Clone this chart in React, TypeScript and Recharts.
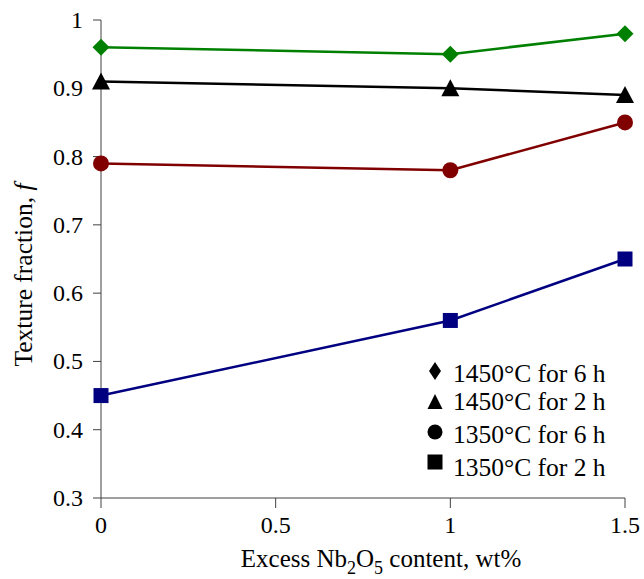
import { LineChart, Line, XAxis, YAxis } from 'recharts';

const xValues = [0, 1, 1.5];
const t1450h6 = [0.96, 0.95, 0.98];
const t1450h2 = [0.91, 0.9, 0.89];
const t1350h6 = [0.79, 0.78, 0.85];
const t1350h2 = [0.45, 0.56, 0.65];
const xTicks = [0, 0.5, 1, 1.5];
const yTicks = [0.3, 0.4, 0.5, 0.6, 0.7, 0.8, 0.9, 1];
const seriesNames = ['1450°C for 6 h', '1450°C for 2 h', '1350°C for 6 h', '1350°C for 2 h'];

const data = xValues.map((x, i) => ({
  x,
  a: t1450h6[i],
  b: t1450h2[i],
  c: t1350h6[i],
  d: t1350h2[i],
}));

const FONT = '"Liberation Serif", "Times New Roman", serif';
const AXIS = '#404040';

type Shape = 'diamond' | 'triangle' | 'circle' | 'square';

// legend markers are a bit smaller / narrower than the plotted ones
function marker(shape: Shape, cx: number, cy: number, color: string, key?: string, legend = false) {
  if (shape === 'diamond') {
    const rx = legend ? 6 : 8.5;
    const ry = legend ? 9 : 8.5;
    return <polygon key={key} points={`${cx},${cy - ry} ${cx + rx},${cy} ${cx},${cy + ry} ${cx - rx},${cy}`} fill={color} />;
  }
  if (shape === 'triangle') {
    const w = legend ? 7.5 : 9;
    const h = legend ? 7 : 8;
    return <polygon key={key} points={`${cx},${cy - h - 1} ${cx + w},${cy + h} ${cx - w},${cy + h}`} fill={color} />;
  }
  if (shape === 'circle') {
    return <circle key={key} cx={cx} cy={cy} r={legend ? 7.5 : 8} fill={color} />;
  }
  const s = 15;
  return <rect key={key} x={cx - s / 2} y={cy - s / 2} width={s} height={s} fill={color} />;
}

const dot = (shape: Shape, color: string) => (p: any) => marker(shape, p.cx, p.cy, color, `${shape}-${p.index}`);

function LegendBox() {
  const shapes: Shape[] = ['diamond', 'triangle', 'circle', 'square'];
  const baselines = [382, 410, 443, 476];
  const markerY = [371, 402, 432, 462];
  return (
    <svg width={644} height={579} style={{ position: 'absolute', left: 0, top: 0, pointerEvents: 'none' }}>
      {seriesNames.map((n, i) => (
        <g key={n}>
          {marker(shapes[i], 435, markerY[i], '#000', undefined, true)}
          <text x={453} y={baselines[i]} fontFamily={FONT} fontSize={25.5} fill="#000">{n}</text>
        </g>
      ))}
    </svg>
  );
}

function XTick(props: any) {
  const { x, y, payload } = props;
  return (
    <text x={x} y={y + 23} textAnchor="middle" fontFamily={FONT} fontSize={24} fill="#000">
      {String(payload.value)}
    </text>
  );
}

function YTick(props: any) {
  const { x, y, payload } = props;
  const v: number = payload.value;
  return (
    <text x={x - 8} y={y + 8} textAnchor="end" fontFamily={FONT} fontSize={24} fill="#000">
      {v === 1 ? '1' : v.toFixed(1)}
    </text>
  );
}

function XLabel(props: any) {
  const { viewBox } = props;
  const cx = viewBox.x + viewBox.width / 2 + 18;
  return (
    <text x={cx} y={567} textAnchor="middle" fontFamily={FONT} fontSize={25} fill="#000">
      Excess Nb<tspan dy={7} fontSize={18}>2</tspan><tspan dy={-7}>O</tspan>
      <tspan dy={7} fontSize={18}>5</tspan><tspan dy={-7}> content, wt%</tspan>
    </text>
  );
}

function YLabel(props: any) {
  const { viewBox } = props;
  const cy = viewBox.y + viewBox.height / 2 + 16;
  return (
    <text x={32} y={cy} transform={`rotate(-90, 32, ${cy})`} textAnchor="middle" fontFamily={FONT} fontSize={25.5} fill="#000">
      Texture fraction, <tspan fontStyle="italic">f</tspan>
    </text>
  );
}

export default function App() {
  return (
    <div style={{ position: 'absolute', left: 0, top: 0, width: 644, height: 579, background: '#fff' }}>
      <LineChart width={644} height={579} data={data} margin={{ top: 20, right: 19, bottom: 0, left: 0 }}>
        <XAxis
          dataKey="x"
          type="number"
          domain={[0, 1.5]}
          ticks={xTicks}
          height={81}
          tickSize={10}
          stroke={AXIS}
          tick={<XTick />}
          label={<XLabel />}
        />
        <YAxis
          type="number"
          domain={[0.3, 1]}
          ticks={yTicks}
          width={101}
          tickSize={8}
          stroke={AXIS}
          tick={<YTick />}
          label={<YLabel />}
        />
        <Line dataKey="a" name={seriesNames[0]} stroke="#008000" strokeWidth={2.5} dot={dot('diamond', '#008000')} isAnimationActive={false} />
        <Line dataKey="b" name={seriesNames[1]} stroke="#000000" strokeWidth={2.5} dot={dot('triangle', '#000000')} isAnimationActive={false} />
        <Line dataKey="c" name={seriesNames[2]} stroke="#800000" strokeWidth={2.5} dot={dot('circle', '#800000')} isAnimationActive={false} />
        <Line dataKey="d" name={seriesNames[3]} stroke="#000080" strokeWidth={2.5} dot={dot('square', '#000080')} isAnimationActive={false} />
      </LineChart>
      <LegendBox />
    </div>
  );
}
